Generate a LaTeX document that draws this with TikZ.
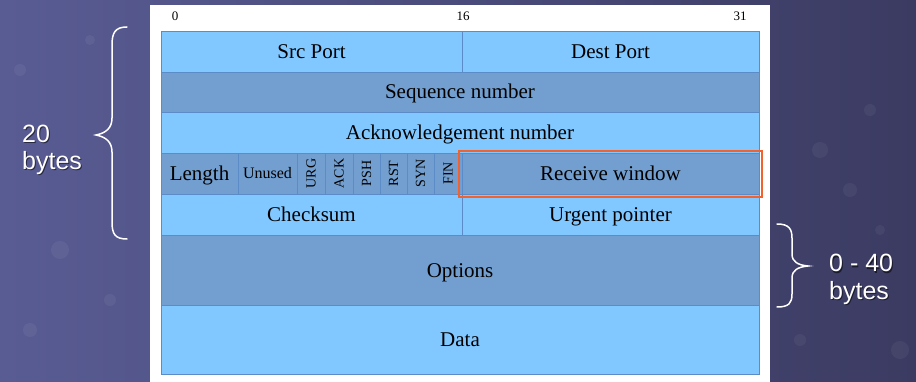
\documentclass[tikz,border=0pt]{standalone}
\usepackage{fontspec}
\setmainfont{Liberation Serif}
\newfontfamily\sidefont{Liberation Sans}
\usetikzlibrary{calc}

\definecolor{bgL}{HTML}{595C93}
\definecolor{bgR}{HTML}{3B3B62}
\definecolor{lightcell}{HTML}{80C8FF}
\definecolor{darkcell}{HTML}{729FCF}
\definecolor{cellline}{HTML}{5B8CC8}
\definecolor{hilite}{HTML}{F2622E}

\tikzset{
  cellbase/.style={draw=cellline, line width=0.8pt, inner sep=0pt, outer sep=0pt,
    font=\fontsize{21}{25}\selectfont, text=black, text height=14pt, text depth=0pt},
  lightbox/.style={cellbase, fill=lightcell},
  darkbox/.style={cellbase, fill=darkcell},
  flagbox/.style={darkbox, rotate=90, minimum width=41pt,
    font=\fontsize{14}{16}\selectfont, text height=9pt, text depth=0pt},
  bitnum/.style={inner sep=0pt, font=\fontsize{13}{15}\selectfont},
  sidetext/.style={inner sep=0pt, anchor=base west, text=white, font=\fontsize{25}{29}\sidefont},
  sideshadow/.style={sidetext, text=black, opacity=0.55},
  bracket/.style={draw=white, line width=1.5pt, line cap=round},
  bubble/.style={fill=white, opacity=0.05}
}

\begin{document}
\begin{tikzpicture}[x=1pt, y=-1pt]
  \useasboundingbox (0,0) rectangle (916,382);

  % slide background
  \shade[left color=bgL, right color=bgR] (0,0) rectangle (916,382);
  \foreach \cx/\cy/\r in {60/250/9, 30/330/7, 110/300/6, 820/150/8, 870/110/6,
                          850/190/7, 900/350/9, 800/340/6, 880/230/5, 20/70/6, 90/40/5}
    \fill[bubble] (\cx,\cy) circle (\r);

  % white sheet
  \fill[white] (150,5) rectangle (770,382);

  % bit positions
  \node[bitnum] (b0)  at (175,16) {0};
  \node[bitnum] (b16) at (463,16) {16};
  \node[bitnum] (b31) at (740,16) {31};

  % header rows
  \node[lightbox, minimum width=301pt, minimum height=41pt] (src) at (311.5,51.5) {Src Port};
  \node[lightbox, minimum width=297pt, minimum height=41pt] (dst) at (610.5,51.5) {Dest Port};

  \node[darkbox, minimum width=598pt, minimum height=40pt] (seq) at (460,92) {Sequence number};

  \node[lightbox, minimum width=598pt, minimum height=41pt] (ackn) at (460,132.5) {Acknowledgement number};

  \node[darkbox, minimum width=77pt, minimum height=41pt] (len) at (199.5,173.5) {Length};
  \node[darkbox, minimum width=59pt, minimum height=41pt, font=\fontsize{16}{19}\selectfont,
        text height=11pt] (unused) at (267.5,173.5) {Unused};
  \node[flagbox, minimum height=28pt] (urg) at (311,173.5) {URG};
  \node[flagbox, minimum height=28pt] (ackf) at (339,173.5) {ACK};
  \node[flagbox, minimum height=27pt] (psh) at (366.5,173.5) {PSH};
  \node[flagbox, minimum height=27pt] (rst) at (393.5,173.5) {RST};
  \node[flagbox, minimum height=27pt] (syn) at (420.5,173.5) {SYN};
  \node[flagbox, minimum height=28pt] (fin) at (448,173.5) {FIN};
  \node[darkbox, minimum width=297pt, minimum height=41pt] (rwin) at (610.5,173.5) {Receive window};

  \node[lightbox, minimum width=301pt, minimum height=41pt] (chk) at (311.5,214.5) {Checksum};
  \node[lightbox, minimum width=297pt, minimum height=41pt] (urgp) at (610.5,214.5) {Urgent pointer};

  \node[darkbox, minimum width=598pt, minimum height=70pt] (opt) at (460,270) {Options};
  \node[lightbox, minimum width=598pt, minimum height=69pt] (data) at (460,339.5) {Data};

  % highlight around the receive window
  \draw[hilite, line width=1.3pt] ($(rwin.north west)+(-3,-2)$) rectangle ($(rwin.south east)+(3,3)$);

  % fixed header brace
  \draw[bracket] (127,27) .. controls (115,27) and (112,33) .. (112,45)
    -- (112,118) .. controls (112,128) and (106,133) .. (96,135)
    .. controls (106,137) and (112,142) .. (112,152)
    -- (112,222) .. controls (112,234) and (115,239) .. (127,239);
  \node[sideshadow] (fixsh1) at (23,144) {20};
  \node[sideshadow] (fixsh2) at (23,171) {bytes};
  \node[sidetext] (fix1) at (22,143) {20};
  \node[sidetext] (fix2) at (22,170) {bytes};

  % options brace
  \draw[bracket] (777,224) .. controls (789,224) and (792,229) .. (792,238)
    -- (792,254) .. controls (792,262) and (798,265) .. (808,266)
    .. controls (798,267) and (792,270) .. (792,278)
    -- (792,294) .. controls (792,303) and (789,307) .. (777,307);
  \node[sideshadow] (optsh1) at (830,273) {0 - 40};
  \node[sideshadow] (optsh2) at (830,300) {bytes};
  \node[sidetext] (opt1) at (829,272) {0 - 40};
  \node[sidetext] (opt2) at (829,299) {bytes};
\end{tikzpicture}
\end{document}
